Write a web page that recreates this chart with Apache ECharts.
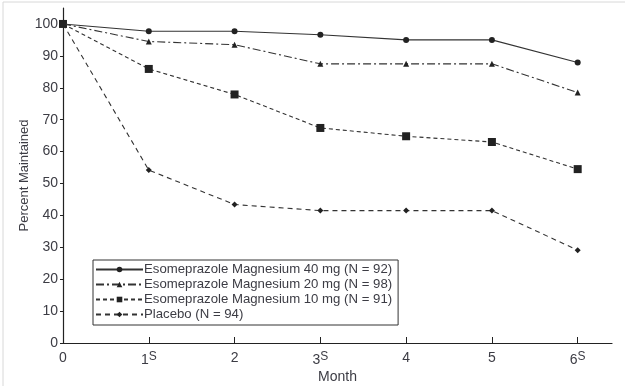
<!DOCTYPE html>
<html>
<head>
<meta charset="utf-8">
<script src="https://cdn.jsdelivr.net/npm/echarts@6/dist/echarts.min.js"></script>
<style>html,body{margin:0;padding:0;background:#fff}#c{width:628px;height:389px}</style>
</head>
<body>
<div id="c"></div>
<script>
var months = [0, 1, 2, 3, 4, 5, 6];
var seriesNames = [
  'Esomeprazole Magnesium 40 mg (N = 92)',
  'Esomeprazole Magnesium 20 mg (N = 98)',
  'Esomeprazole Magnesium 10 mg (N = 91)',
  'Placebo (N = 94)'
];
var esome40 = [100, 97.7, 97.7, 96.6, 95.0, 95.0, 87.9];
var esome20 = [100, 94.5, 93.5, 87.5, 87.5, 87.5, 78.5];
var esome10 = [100, 85.9, 77.9, 67.4, 64.8, 63.0, 54.5];
var placebo = [100, 54.2, 43.4, 41.5, 41.5, 41.5, 29.1];
var xTickLabels = ['0', '1', '2', '3', '4', '5', '6'];
var xTickSup = ['', 'S', '', 'S', '', '', 'S'];
var yTicks = [0, 10, 20, 30, 40, 50, 60, 70, 80, 90, 100];

var FONT = "'Liberation Sans Narrow', 'Arial Narrow', 'Liberation Sans', Arial, sans-serif";
var TXT = '#3c3c44';
var LINE = '#333333';

function pairs(vals) { return months.map(function (m, i) { return [m, vals[i]]; }); }

var styles = [
  {data: esome40, symbol: 'circle', size: 6, type: 'solid'},
  {data: esome20, symbol: 'triangle', size: 6, type: [8, 3, 2, 3]},
  {data: esome10, symbol: 'rect', size: 8, type: [4, 3]},
  {data: placebo, symbol: 'diamond', size: 6, type: [5, 4]}
];

var chart = echarts.init(document.getElementById('c'), null, {renderer: 'canvas'});
chart.setOption({
  animation: false,
  backgroundColor: '#fff',
  grid: {left: 63, right: 16, top: 8, bottom: 44, containLabel: false},
  xAxis: {
    type: 'value', min: 0, max: 6.4, interval: 1,
    name: 'Month', nameLocation: 'middle', nameGap: 27, nameMoveOverlap: false,
    nameTextStyle: {fontFamily: FONT, fontSize: 14, color: TXT},
    axisLine: {lineStyle: {color: '#222', width: 1.2}},
    axisTick: {inside: true, length: 6, lineStyle: {color: '#222'}, customValues: months},
    splitLine: {show: false},
    axisLabel: {
      customValues: months, margin: 8,
      formatter: function (v) {
        var i = months.indexOf(v);
        if (i < 0) return '';
        return xTickLabels[i] + (xTickSup[i] ? '{s|' + xTickSup[i] + '}' : '');
      },
      fontFamily: FONT, fontSize: 14, color: TXT,
      rich: {s: {fontFamily: FONT, fontSize: 12, color: TXT, verticalAlign: 'top', padding: [0, 0, 6, 0]}}
    }
  },
  yAxis: {
    type: 'value', min: 0, max: 105, interval: 10,
    name: 'Percent Maintained', nameLocation: 'middle', nameGap: 32, nameRotate: 90, nameMoveOverlap: false,
    nameTextStyle: {fontFamily: FONT, fontSize: 13, color: TXT},
    axisLine: {show: true, lineStyle: {color: '#222', width: 1.2}},
    axisTick: {show: true, length: 3, lineStyle: {color: '#222'}, customValues: yTicks},
    splitLine: {show: false},
    axisLabel: {customValues: yTicks, margin: 5, fontFamily: FONT, fontSize: 14, color: TXT}
  },
  legend: {
    orient: 'vertical', left: 93, top: 260,
    padding: [3, 6, 4, 2],
    itemGap: 2, itemWidth: 47, itemHeight: 7,
    borderColor: '#333', borderWidth: 1,
    textStyle: {fontFamily: FONT, fontSize: 13.2, color: TXT, padding: [0, 0, 0, -4]},
    data: seriesNames
  },
  series: styles.map(function (s, k) {
    return {
      type: 'line', name: seriesNames[k], data: pairs(s.data),
      symbol: s.symbol, symbolSize: s.size, z: 10 - k,
      lineStyle: {color: LINE, width: 1.1, type: s.type},
      itemStyle: {color: '#222'}
    };
  }),
  graphic: [
    {type: 'line', shape: {x1: 3, y1: 2, x2: 625, y2: 2}, style: {stroke: '#d8d8d8', lineWidth: 1}},
    {type: 'line', shape: {x1: 3, y1: 2, x2: 3, y2: 386}, style: {stroke: '#d8d8d8', lineWidth: 1}}
  ]
});
</script>
</body>
</html>
